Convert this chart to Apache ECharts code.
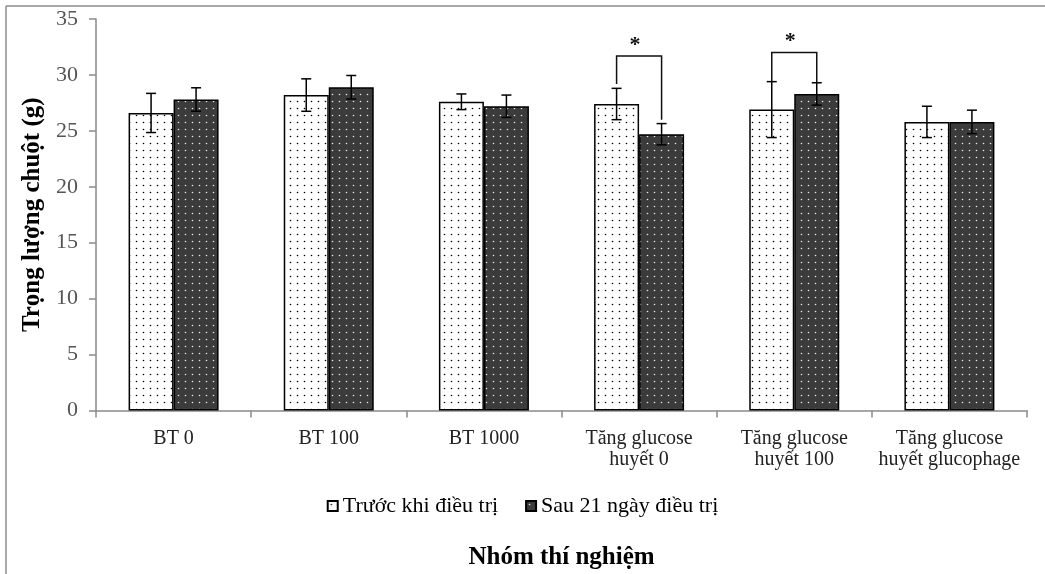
<!DOCTYPE html>
<html>
<head>
<meta charset="utf-8">
<script src="https://cdn.jsdelivr.net/npm/echarts@6/dist/echarts.min.js"></script>
<style>html,body{margin:0;padding:0;background:#fff}#c{width:1045px;height:574px}</style>
</head>
<body>
<div id="c"></div>
<script>
var categories = ['BT 0', 'BT 100', 'BT 1000', 'Tăng glucose\nhuyết 0', 'Tăng glucose\nhuyết 100', 'Tăng glucose\nhuyết glucophage'];
var beforeVals = [26.6, 28.2, 27.6, 27.4, 26.9, 25.8];
var beforeErr = [1.75, 1.45, 0.7, 1.4, 2.5, 1.4];
var afterVals = [27.8, 28.9, 27.2, 24.7, 28.3, 25.8];
var afterErr = [1.05, 1.05, 1.0, 0.95, 1.0, 1.05];
var sigCats = [3, 4];
var sigTop = [31.7, 32.0];
var sigLeftEnd = [29.2, 29.35];
var sigRightEnd = [26.0, 29.35];
var seriesNames = ['Trước khi điều trị', 'Sau 21 ngày điều trị'];
var yTicks = [0, 5, 10, 15, 20, 25, 30, 35];

function makeTile(bg, dot) {
  var c = document.createElement('canvas');
  c.width = 7; c.height = 7;
  var g = c.getContext('2d');
  g.fillStyle = bg; g.fillRect(0, 0, 7, 7);
  g.fillStyle = dot;
  g.beginPath(); g.arc(3.5, 3.5, 0.8, 0, Math.PI * 2); g.fill();
  return c;
}
var whiteTile = makeTile('#ffffff', '#000000');
var darkTile = makeTile('#3b3b3b', '#e8e8e8');

var FONT = "'Liberation Serif', 'DejaVu Serif', serif";
var GAP = 0.42;

function errRender(vals, errs, side) {
  return function (params, api) {
    var i = api.value(0);
    var band = api.size([1, 0])[0];
    var off = side * band * (1 - GAP) / 4;
    var hi = api.coord([i, vals[i] + errs[i]]);
    var lo = api.coord([i, vals[i] - errs[i]]);
    var x = hi[0] + off;
    var cap = 5;
    var st = { stroke: '#000', lineWidth: 1.5 };
    return {
      type: 'group',
      children: [
        { type: 'line', shape: { x1: x, y1: hi[1], x2: x, y2: lo[1] }, style: st },
        { type: 'line', shape: { x1: x - cap, y1: hi[1], x2: x + cap, y2: hi[1] }, style: st },
        { type: 'line', shape: { x1: x - cap, y1: lo[1], x2: x + cap, y2: lo[1] }, style: st }
      ]
    };
  };
}

function sigRender(params, api) {
  var k = params.dataIndex;
  var i = sigCats[k];
  var band = api.size([1, 0])[0];
  var off = band * (1 - GAP) / 4;
  var top = api.coord([i, sigTop[k]]);
  var l = api.coord([i, sigLeftEnd[k]]);
  var r = api.coord([i, sigRightEnd[k]]);
  var xl = top[0] - off, xr = top[0] + off;
  var st = { stroke: '#111', lineWidth: 1.5, fill: null };
  return {
    type: 'group',
    children: [
      { type: 'polyline', shape: { points: [[xl, l[1]], [xl, top[1]], [xr, top[1]], [xr, r[1]]] }, style: st },
      { type: 'text', style: { text: '*', x: top[0] - 4, y: top[1] - 11, align: 'center', verticalAlign: 'middle', font: "bold 22px " + FONT, fill: '#111' } }
    ]
  };
}

var chart = echarts.init(document.getElementById('c'));
chart.setOption({
  animation: false,
  backgroundColor: '#fff',
  grid: { left: 96, right: 18, top: 19, bottom: 163.5, containLabel: false, outerBoundsMode: 'none' },
  legend: {
    data: seriesNames,
    left: 'center',
    top: 490,
    itemWidth: 10,
    itemHeight: 10,
    itemGap: 27,
    icon: 'rect',
    textStyle: { fontFamily: FONT, fontSize: 22, color: '#000' }
  },
  xAxis: {
    type: 'category',
    data: categories,
    name: 'Nhóm thí nghiệm',
    nameLocation: 'middle',
    nameGap: 135,
    nameTextStyle: { fontFamily: FONT, fontSize: 25, fontWeight: 'bold', color: '#000' },
    axisLine: { lineStyle: { color: '#8a8a8a', width: 1.5 } },
    axisTick: { show: true, length: 7, lineStyle: { color: '#8a8a8a', width: 1.5 } },
    axisLabel: { fontFamily: FONT, fontSize: 20, color: '#222', margin: 18, lineHeight: 21, interval: 0 }
  },
  yAxis: {
    type: 'value',
    min: 0, max: 35, interval: 5,
    name: 'Trọng lượng chuột (g)',
    nameLocation: 'middle',
    nameGap: 43,
    nameTextStyle: { fontFamily: FONT, fontSize: 25, fontWeight: 'bold', color: '#000' },
    axisLine: { show: true, lineStyle: { color: '#8a8a8a', width: 1.5 } },
    axisTick: { show: true, length: 7, lineStyle: { color: '#8a8a8a', width: 1.5 } },
    splitLine: { show: false },
    axisLabel: { fontFamily: FONT, fontSize: 22, color: '#555', margin: 18,
      formatter: function (v) { return yTicks.indexOf(v) >= 0 ? String(v) : ''; } }
  },
  series: [
    {
      name: seriesNames[0], type: 'bar', data: beforeVals,
      barGap: '0%', barCategoryGap: (GAP * 100) + '%',
      itemStyle: { color: { image: whiteTile, repeat: 'repeat' }, borderColor: '#000', borderWidth: 1.5 }
    },
    {
      name: seriesNames[1], type: 'bar', data: afterVals,
      barGap: '0%', barCategoryGap: (GAP * 100) + '%',
      itemStyle: { color: { image: darkTile, repeat: 'repeat' }, borderColor: '#000', borderWidth: 1.5 }
    },
    {
      type: 'custom', name: 'errBefore', silent: true, z: 5,
      data: beforeVals.map(function (v, i) { return [i, v]; }),
      renderItem: errRender(beforeVals, beforeErr, -1)
    },
    {
      type: 'custom', name: 'errAfter', silent: true, z: 5,
      data: afterVals.map(function (v, i) { return [i, v]; }),
      renderItem: errRender(afterVals, afterErr, 1)
    },
    {
      type: 'custom', name: 'sig', silent: true, z: 6,
      data: sigCats.map(function (c, k) { return [c, sigTop[k]]; }),
      renderItem: sigRender
    }
  ],
  graphic: [
    { type: 'line', shape: { x1: 6, y1: 6, x2: 1045, y2: 6 }, style: { stroke: '#8c8c8c', lineWidth: 1.5 } },
    { type: 'line', shape: { x1: 6, y1: 6, x2: 6, y2: 574 }, style: { stroke: '#8c8c8c', lineWidth: 1.5 } }
  ]
});
</script>
</body>
</html>
